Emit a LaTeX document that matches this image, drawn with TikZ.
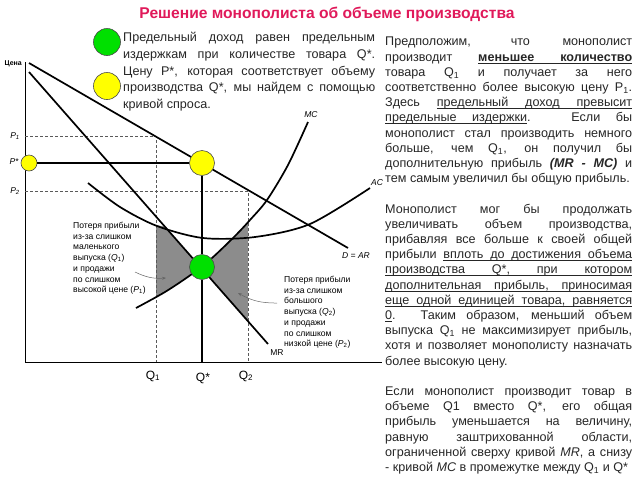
\documentclass[tikz,border=0pt]{standalone}
\usepackage{fontspec}
\setmainfont{Liberation Sans}
\usetikzlibrary{positioning,arrows.meta}
\definecolor{titlered}{HTML}{E0195A}
\definecolor{dotgreen}{HTML}{00E000}
\definecolor{dotyellow}{HTML}{FFFF00}
\definecolor{lossgray}{HTML}{8C8C8C}
\definecolor{ink}{HTML}{262626}
\setlength{\parindent}{0pt}
\hyphenpenalty10000\relax
\newcommand{\sub}[1]{\textsubscript{#1}}
% underlined word, and an underlined stretchable space
\newsavebox{\ulbox}
\newcommand{\ulw}[1]{\sbox{\ulbox}{#1}\rlap{\vrule height -1.5pt depth 2.3pt width \wd\ulbox}\usebox{\ulbox}}
\newcommand{\ulsp}{\leaders\hrule height -1.5pt depth 2.3pt\hskip\fontdimen2\font plus\fontdimen3\font minus\fontdimen4\font\relax}

\tikzset{
  curve/.style={line width=1.7pt},
  guide/.style={draw=black!65,line width=0.5pt,dash pattern=on 3pt off 2pt},
  dotG/.style={circle,draw=black!70,fill=dotgreen,minimum size=25pt,inner sep=0pt,line width=0.6pt},
  dotY/.style={circle,draw=black!70,fill=dotyellow,minimum size=25pt,inner sep=0pt,line width=0.6pt},
  lbl/.style={font=\fontsize{8.5}{9}\selectfont\itshape,inner sep=0pt},
  note/.style={font=\fontsize{8.6}{10.7}\selectfont,align=left,anchor=north west,inner sep=0pt},
  pointer/.style={draw=black!60,line width=0.5pt,-{Stealth[length=4pt,width=3pt]}},
  body/.style={font=\fontsize{12.6}{15.2}\selectfont,text=ink,align=justify,anchor=north west,
    inner sep=0pt,text width=247pt},
}

\begin{document}
\begin{tikzpicture}[x=1pt,y=-1pt]
\useasboundingbox (0,0) rectangle (640,480);

\node[font=\fontsize{15.6}{18}\selectfont\bfseries,text=titlered] (title) at (327,14)
  {Решение монополиста об объеме производства};

% legend
\node[dotG,minimum size=27pt] (legG) at (107,42) {};
\node[dotY,minimum size=27pt] (legY) at (107,86) {};
\node[body,text width=252pt,font=\fontsize{12.6}{16.8}\selectfont] (legtext) at (123,32)
  {Предельный доход равен предельным\linebreak
   издержкам при количестве товара Q*.\linebreak
   Цену P*, которая соответствует объему\linebreak
   производства Q*, мы найдем с помощью\linebreak
   кривой спроса.};

% axes
\coordinate (origin) at (25,362);
\coordinate (ytop) at (25,62);
\coordinate (xend) at (382,362);
\draw[line width=0.8pt] (ytop) -- (origin) -- (xend);
\node[font=\fontsize{7}{8}\selectfont\bfseries,anchor=east,inner sep=0pt] (price) at (22,64) {Цена};

% losses
\fill[lossgray] (156,225) -- (164,226.5) -- (202,269) -- (192,274) -- (165,292) -- (156,297) -- cycle;
\fill[lossgray] (202,266) -- (212,258) -- (235,236) -- (248,223) -- (248,321) -- (202,269) -- cycle;

% guides
\coordinate (p1) at (25,136);
\coordinate (q1top) at (156,136);
\coordinate (q1) at (156,362);
\draw[guide] (p1) -- (q1top) -- (q1);
\coordinate (p2) at (25,191);
\coordinate (q2top) at (248,191);
\coordinate (q2) at (248,362);
\draw[guide] (p2) -- (q2top) -- (q2);

% curves
\draw[curve] (29,63) -- (348,248);
\draw[curve] (29,72) -- (268,344);
\draw[curve] plot[smooth] coordinates {(136,308) (165,292) (192,274) (212,258) (235,236) (250,220) (267,200) (288,165) (308,122)};
\draw[curve] plot[smooth] coordinates {(88,183) (120,207) (157,226) (203,238) (255,237) (310,224) (370,188)};

\node[lbl] (mclab) at (311,115) {MC};
\node[lbl] (aclab) at (377,183) {AC};
\node[lbl] (dlab) at (356,256) {D = AR};
\node[lbl,font=\fontsize{8.5}{9}\selectfont] (mrlab) at (277,353) {MR};
\node[lbl] (p1lab) at (15,136) {P\sub{1}};
\node[lbl] (pslab) at (14,162) {P*};
\node[lbl] (p2lab) at (15,191) {P\sub{2}};

% points
\node[dotY,minimum size=16pt] (pstar) at (29,163) {};
\node[dotY] (ystar) at (202,163) {};
\node[dotG] (opt) at (202,267) {};
\coordinate (qstar) at (202,362);
\draw[line width=1.4pt] (pstar) -- (ystar);
\draw[curve] (ystar) -- (opt);
\draw[curve] (opt) -- (qstar);

\node[font=\fontsize{12}{14}\selectfont] (q1lab) at (153,376) {Q\sub{1}};
\node[font=\fontsize{12}{14}\selectfont] (qslab) at (203,378) {Q*};
\node[font=\fontsize{12}{14}\selectfont] (q2lab) at (246,376) {Q\sub{2}};

% notes
\node[note] (noteL) at (73,222) {Потеря прибыли\\из-за слишком\\маленького\\выпуска (\textit{Q}\sub{1})\\и продажи\\по слишком\\высокой цене (\textit{P}\sub{1})};
\node[note] (noteR) at (284,276) {Потеря прибыли\\из-за слишком\\большого\\выпуска (\textit{Q}\sub{2})\\и продажи\\по слишком\\низкой цене (\textit{P}\sub{2})};
\coordinate (tailL) at (135,272);
\coordinate (tipL) at (166,278);
\draw[pointer] (tailL) to[bend right=15] (tipL);
\coordinate (tailR) at (277,303);
\coordinate (tipR) at (238,293);
\draw[pointer] (tailR) to[bend left=15] (tipR);

% text
\node[body] (story) at (385,37)
  {Предположим, что монополист\linebreak
   производит \textbf{\ulw{меньшее}\ulsp\ulw{количество}}\linebreak
   товара Q\sub{1} и получает за него\linebreak
   соответственно более высокую цену P\sub{1}.\linebreak
   Здесь \ulw{предельный}\ulsp\ulw{доход}\ulsp\ulw{превысит}\linebreak
   \ulw{предельные}\ulsp\ulw{издержки}. Если бы\linebreak
   монополист стал производить немного\linebreak
   больше, чем Q\sub{1}, он получил бы\linebreak
   дополнительную прибыль \textbf{\textit{(MR - MC)}} и\linebreak
   тем самым увеличил бы общую прибыль.\par\vspace{15.2pt}
   Монополист мог бы продолжать\linebreak
   увеличивать объем производства,\linebreak
   прибавляя все больше к своей общей\linebreak
   прибыли \ulw{вплоть}\ulsp\ulw{до}\ulsp\ulw{достижения}\ulsp\ulw{объема}\linebreak
   \ulw{производства}\ulsp\ulw{Q*,}\ulsp\ulw{при}\ulsp\ulw{котором}\linebreak
   \ulw{дополнительная}\ulsp\ulw{прибыль,}\ulsp\ulw{приносимая}\linebreak
   \ulw{еще}\ulsp\ulw{одной}\ulsp\ulw{единицей}\ulsp\ulw{товара,}\ulsp\ulw{равняется}\linebreak
   \ulw{0}. Таким образом, меньший объем\linebreak
   выпуска Q\sub{1} не максимизирует прибыль,\linebreak
   хотя и позволяет монополисту назначать\linebreak
   более высокую цену.\par\vspace{15.2pt}
   Если монополист производит товар в\linebreak
   объеме Q1 вместо Q*, его общая\linebreak
   прибыль уменьшается на величину,\linebreak
   равную заштрихованной области,\linebreak
   ограниченной сверху кривой \textit{MR}, а снизу\linebreak
   - кривой \textit{MC} в промежутке между Q\sub{1} и Q*};
\end{tikzpicture}
\end{document}
